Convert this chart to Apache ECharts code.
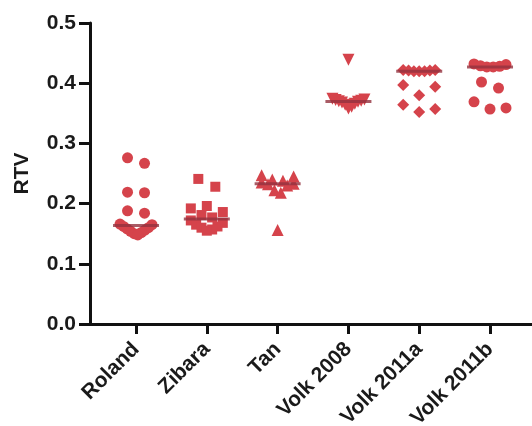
<!DOCTYPE html>
<html>
<head>
<meta charset="utf-8">
<script src="https://cdn.jsdelivr.net/npm/echarts@6/dist/echarts.min.js"></script>
<style>
  html, body { margin: 0; padding: 0; background: #fff; }
  #chart { width: 532px; height: 426px; }
</style>
</head>
<body>
<div id="chart"></div>
<script>
// Study groups and their RTV measurements
const categories = ['Roland', 'Zibara', 'Tan', 'Volk 2008', 'Volk 2011a', 'Volk 2011b'];
const roland    = [0.276, 0.267, 0.219, 0.218, 0.188, 0.184, 0.166, 0.165, 0.162, 0.160, 0.158, 0.156, 0.154, 0.152, 0.150, 0.148];
const zibara    = [0.241, 0.228, 0.196, 0.192, 0.186, 0.181, 0.177, 0.172, 0.168, 0.165, 0.162, 0.160, 0.157, 0.155];
const tan       = [0.247, 0.245, 0.240, 0.238, 0.235, 0.233, 0.232, 0.230, 0.222, 0.218, 0.156];
const volk2008  = [0.439, 0.374, 0.373, 0.372, 0.371, 0.370, 0.369, 0.368, 0.366, 0.364, 0.361, 0.358];
const volk2011a = [0.422, 0.422, 0.421, 0.421, 0.420, 0.420, 0.420, 0.397, 0.394, 0.380, 0.364, 0.357, 0.352];
const volk2011b = [0.432, 0.431, 0.429, 0.428, 0.427, 0.427, 0.402, 0.392, 0.369, 0.359, 0.357];
const yTicks = [0, 0.1, 0.2, 0.3, 0.4, 0.5];

const groups = [roland, zibara, tan, volk2008, volk2011a, volk2011b];
const symbols = ['circle', 'rect', 'triangle', 'triangle', 'diamond', 'circle'];
const rotations = [0, 0, 0, 180, 0, 0];
const sizes = [11, 10, 12, 12, 12, 11];

const RED = '#d5434b';
const LINE = '#93323f';
const FONT = "'Liberation Sans', Arial, sans-serif";

const grid = { left: 90, right: 0, top: 23, bottom: 102, containLabel: false, outerBoundsMode: 'none' };
const xMin = -0.65, xMax = 5.593;
const yMin = 0, yMax = 0.5;

const chart = echarts.init(document.getElementById('chart'), null, { renderer: 'canvas' });
const pxPerX = (chart.getWidth() - grid.left - grid.right) / (xMax - xMin);
const pxPerY = (chart.getHeight() - grid.top - grid.bottom) / (yMax - yMin);

function median(arr) {
  const s = arr.slice().sort((a, b) => a - b);
  const m = Math.floor(s.length / 2);
  return s.length % 2 ? s[m] : (s[m - 1] + s[m]) / 2;
}

// Row-based dot spreading: points are binned into rows one symbol high;
// within a row the lowest value sits nearest the centre and higher values
// step outwards (right first, then left). Spacing shrinks when a row
// holds too many points to fit within maxHalf.
function spread(values, rowH, step, maxHalf) {
  const order = values.map((v, i) => i).sort((a, b) => values[a] - values[b]);
  const rows = [];
  let row = null, rowStart = -Infinity;
  order.forEach(i => {
    const y = values[i] * pxPerY;
    if (y - rowStart >= rowH) { row = []; rows.push(row); rowStart = y; }
    row.push(i);
  });
  const offsets = new Array(values.length).fill(0);
  rows.forEach(r => {
    const n = r.length;
    const s = n > 1 ? Math.min(step, (2 * maxHalf) / (n - 1)) : 0;
    const slots = [];
    for (let k = 0; k < n; k++) slots.push((k - (n - 1) / 2) * s);
    slots.sort((a, b) => (Math.abs(a) - Math.abs(b)) || (b - a));
    r.forEach((idx, k) => { offsets[idx] = slots[k]; });
  });
  return offsets;
}

const series = [];
groups.forEach((vals, gi) => {
  const offs = spread(vals, 11, 17, 16);
  series.push({
    type: 'scatter',
    name: categories[gi],
    symbol: symbols[gi],
    symbolRotate: rotations[gi],
    symbolSize: sizes[gi],
    itemStyle: { color: RED, opacity: 1 },
    z: 3,
    silent: true,
    data: vals.map((v, k) => [gi + offs[k] / pxPerX, v])
  });
});

// Median bars
series.push({
  type: 'scatter',
  symbol: 'rect',
  symbolSize: [46, 3],
  itemStyle: { color: LINE },
  z: 4,
  silent: true,
  data: groups.map((vals, gi) => [gi, median(vals)])
});

const catTicks = categories.map((c, i) => i);

chart.setOption({
  animation: false,
  backgroundColor: '#fff',
  grid: grid,
  xAxis: {
    type: 'value',
    min: xMin,
    max: xMax,
    splitLine: { show: false },
    axisLine: { show: true, onZero: false, lineStyle: { color: '#111', width: 3 } },
    axisTick: { show: true, customValues: catTicks, length: 10, lineStyle: { color: '#111', width: 3 } },
    axisLabel: {
      customValues: catTicks,
      rotate: 45,
      margin: 22,
      color: '#1a1a1a',
      fontFamily: FONT,
      fontWeight: 'bold',
      fontSize: 21,
      formatter: v => categories[Math.round(v)]
    }
  },
  yAxis: {
    type: 'value',
    min: yMin,
    max: yMax,
    interval: 0.1,
    name: 'RTV',
    nameLocation: 'middle',
    nameGap: 57,
    nameTextStyle: { color: '#1a1a1a', fontFamily: FONT, fontWeight: 'bold', fontSize: 21 },
    splitLine: { show: false },
    axisLine: { show: true, onZero: false, lineStyle: { color: '#111', width: 3 } },
    axisTick: { show: true, length: 11, lineStyle: { color: '#111', width: 3 } },
    axisLabel: {
      margin: 14,
      color: '#1a1a1a',
      fontFamily: FONT,
      fontWeight: 'bold',
      fontSize: 21,
      customValues: yTicks,
      formatter: v => v.toFixed(1)
    }
  },
  series: series
});
</script>
</body>
</html>
